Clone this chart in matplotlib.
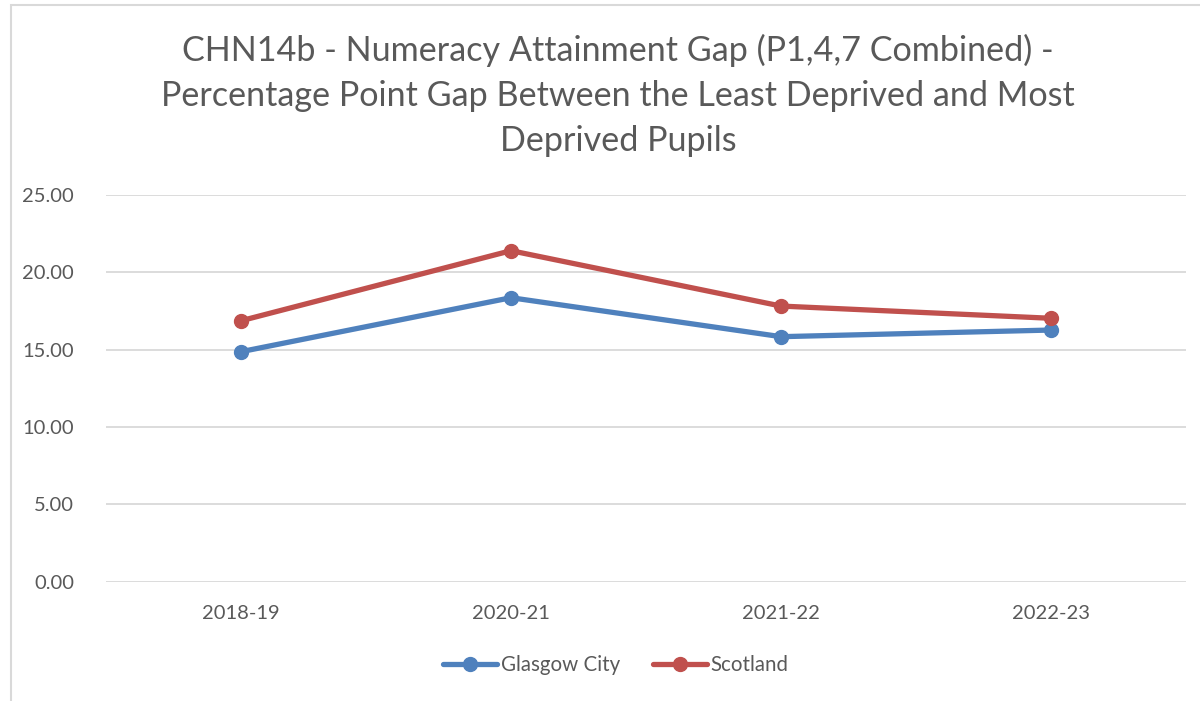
import matplotlib
matplotlib.use("Agg")
import matplotlib.pyplot as plt
from matplotlib.patches import Rectangle

categories = ["2018-19", "2020-21", "2021-22", "2022-23"]
glasgow = [14.87, 18.36, 15.84, 16.27]
scotland = [16.87, 21.40, 17.82, 17.03]
yticks = [0, 5, 10, 15, 20, 25]

plt.rcParams['font.family'] = ['Lato', 'DejaVu Sans']
text_color = "#595959"

W, H = 1200, 701
fig = plt.figure(figsize=(W / 100, H / 100), dpi=100)
fig.patches.append(Rectangle((11 / W, -0.05), 1.5, 1.05 - 5 / H,
                             transform=fig.transFigure, fill=False,
                             edgecolor="#D9D9D9", linewidth=1.5))

ax = fig.add_axes([106 / W, (H - 581.7) / H, (1186 - 106) / W, (581.7 - 195) / H])
x = list(range(len(categories)))
ax.plot(x, glasgow, color="#4F81BD", linewidth=3.8, marker="o", markersize=10,
        label="Glasgow City", solid_capstyle="round")
ax.plot(x, scotland, color="#C0504D", linewidth=3.8, marker="o", markersize=10,
        label="Scotland", solid_capstyle="round")

ax.set_xlim(-0.5, len(categories) - 0.5)
ax.set_ylim(0, 25)
ax.set_yticks(yticks)
ax.set_yticklabels([f"{v:.2f}" for v in yticks])
ax.set_xticks(x)
ax.set_xticklabels(categories)
ax.grid(axis="y", color="#D9D9D9", linewidth=1.3)
ax.set_axisbelow(True)
for s in ax.spines.values():
    s.set_visible(False)
ax.tick_params(axis="both", length=0, labelsize=14.5, labelcolor=text_color)
ax.tick_params(axis="y", pad=23)
ax.tick_params(axis="x", pad=17)

fig.text(618 / W, 1 - 95 / H,
         "CHN14b - Numeracy Attainment Gap (P1,4,7 Combined) -\nPercentage Point Gap Between the Least Deprived and Most\nDeprived Pupils",
         ha="center", va="center", fontsize=24.6, color=text_color, linespacing=1.5)

leg = fig.legend(loc="center", bbox_to_anchor=(616 / W, 1 - 665 / H), ncol=2,
                 frameon=False, fontsize=14.8, handlelength=2.6, columnspacing=1.6,
                 handletextpad=0.2)
for t in leg.get_texts():
    t.set_color(text_color)

fig.savefig("out.png", dpi=100)
